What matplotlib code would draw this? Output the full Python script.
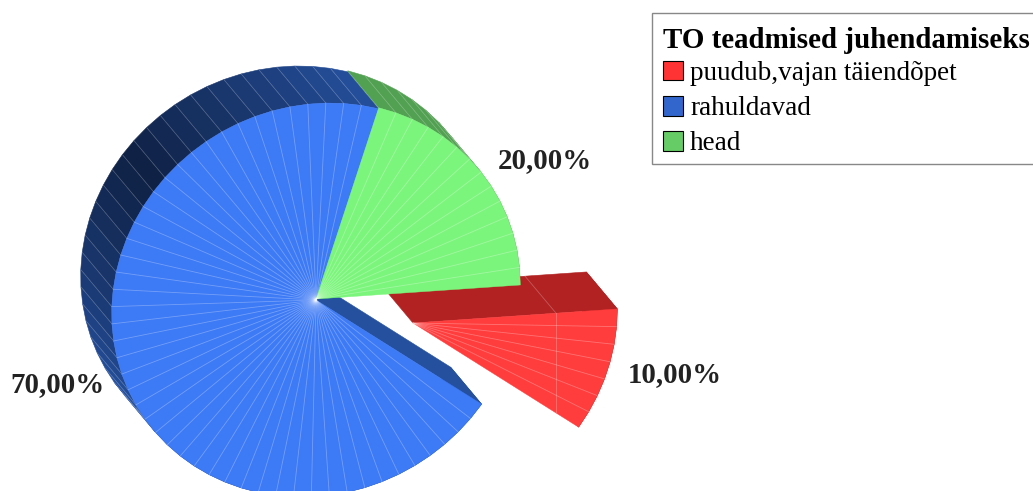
import numpy as np
import matplotlib
matplotlib.use("Agg")
import matplotlib.pyplot as plt
from matplotlib.patches import Polygon, Patch, Rectangle
from matplotlib.transforms import IdentityTransform

# ---- data ----
legend_title = "TO teadmised juhendamiseks"
categories = ["puudub,vajan täiendõpet", "rahuldavad", "head"]
values = [10.0, 70.0, 20.0]
value_labels = ["10,00%", "70,00%", "20,00%"]

# ---- style ----
legend_colors = ["#ff3333", "#3366cc", "#66cc66"]
top_colors = ["#ff3d3d", "#3d7af5", "#7cf57c"]
side_light = ["#b22222", "#25509e", "#52a052"]
side_dark = ["#b22222", "#0f2144", "#52a052"]
centers = [(413, 323), (316, 300), (316, 299)]
label_pos = [(675, 375), (57, 385), (545, 161)]
RADIUS = (204, 197)
SHEAR = (12, 2)
DEPTH = (-31, -37)
START = 3.5
STEP = 5.0
SERIF = "Liberation Serif"

fig = plt.figure(figsize=(10.33, 4.91), dpi=100)
ax = fig.add_axes([0, 0, 1, 1])
ax.set_xlim(0, 1033)
ax.set_ylim(491, 0)
ax.axis("off")


def arc(center, a0, a1):
    n = max(2, int(round(abs(a1 - a0) / STEP)))
    ang = np.linspace(a0, a1, n + 1)
    c_, s_ = np.cos(np.radians(ang)), np.sin(np.radians(ang))
    xs = center[0] + RADIUS[0] * c_ + SHEAR[0] * s_
    ys = center[1] - RADIUS[1] * s_ - SHEAR[1] * c_
    return ang, np.column_stack([xs, ys])


def mix(c1, c2, t):
    a = np.array(matplotlib.colors.to_rgb(c1))
    b = np.array(matplotlib.colors.to_rgb(c2))
    return tuple(a * (1 - t) + b * t)


total = sum(values)
spans = []
a = START
for v in values:
    spans.append((a, a - 360 * v / total))
    a -= 360 * v / total

depth = np.array(DEPTH)

# back faces first: rim facets and the visible cut faces
for order in (1, 2, 0):
    c = np.array(centers[order])
    a0, a1 = spans[order]
    ang, pts = arc(c, a0, a1)
    if order in (0, 1):
        face = [c, pts[0], pts[0] + depth, c + depth]
        ax.add_patch(Polygon(face, closed=True, fc=side_light[order], ec=side_light[order], lw=0.4, zorder=1))
    if order == 0:
        p = c + (pts[0] - c) * 0.70
        ax.plot([p[0], p[0] + depth[0]], [p[1], p[1] + depth[1]], color="white", alpha=0.25, lw=0.6, zorder=1.1)
    for i in range(len(pts) - 1):
        mid = ((ang[i] + ang[i + 1]) / 2) % 360
        t = min(1.0, abs(mid - 145) / 70)
        col = mix(side_dark[order], side_light[order], t)
        q = [pts[i], pts[i + 1], pts[i + 1] + depth, pts[i] + depth]
        ax.add_patch(Polygon(q, closed=True, fc=col, ec=col, lw=0.4, zorder=1))
    for p in pts[1:-1]:
        if order == 0:
            continue
        ax.plot([p[0], p[0] + depth[0]], [p[1], p[1] + depth[1]],
                color="white", alpha=0.25, lw=0.5, zorder=1.2)

# top faces
for order, z in ((0, 2), (1, 3), (2, 4)):
    c = np.array(centers[order])
    a0, a1 = spans[order]
    ang, pts = arc(c, a0, a1)
    ax.add_patch(Polygon(np.vstack([c, pts]), closed=True, fc=top_colors[order],
                         ec=top_colors[order], lw=0.3, zorder=z))
    for p in pts[1:-1]:
        ax.plot([c[0], p[0]], [c[1], p[1]], color="white", alpha=0.28, lw=0.6, zorder=z + 0.1)
    if order == 0:
        e = c + (pts[0] - c) * 0.70
        h = (pts[-1] - c) * 0.855 + c
        ax.plot([e[0], e[0]], [e[1], h[1]], color="white", alpha=0.28, lw=0.6, zorder=z + 0.1)

for (x, y), s in zip(label_pos, value_labels):
    ax.text(x, y, s, ha="center", va="center", family=SERIF, weight="bold",
            fontsize=20.8, color="#222222", zorder=6)

# legend box runs past the right edge of the canvas, as in the original
ax.add_patch(Rectangle((652, 13), 400, 151, fc="white", ec="#888888", lw=1.0, zorder=9))

handles = [Patch(fc=c, ec="black", lw=0.8) for c in legend_colors]
leg = ax.legend(handles, categories, title=legend_title, loc="upper left",
                bbox_to_anchor=(663, 491 - 27), bbox_transform=IdentityTransform(),
                frameon=False,
                prop={"family": SERIF, "size": 19.5},
                title_fontproperties={"family": SERIF, "size": 20.9, "weight": "bold"},
                alignment="left", borderpad=0, labelspacing=0.365,
                handlelength=0.74, handleheight=0.74, handletextpad=0.26, borderaxespad=0)
leg._legend_box.sep = 4.9
leg.set_zorder(10)

fig.savefig("out.png", dpi=100)
